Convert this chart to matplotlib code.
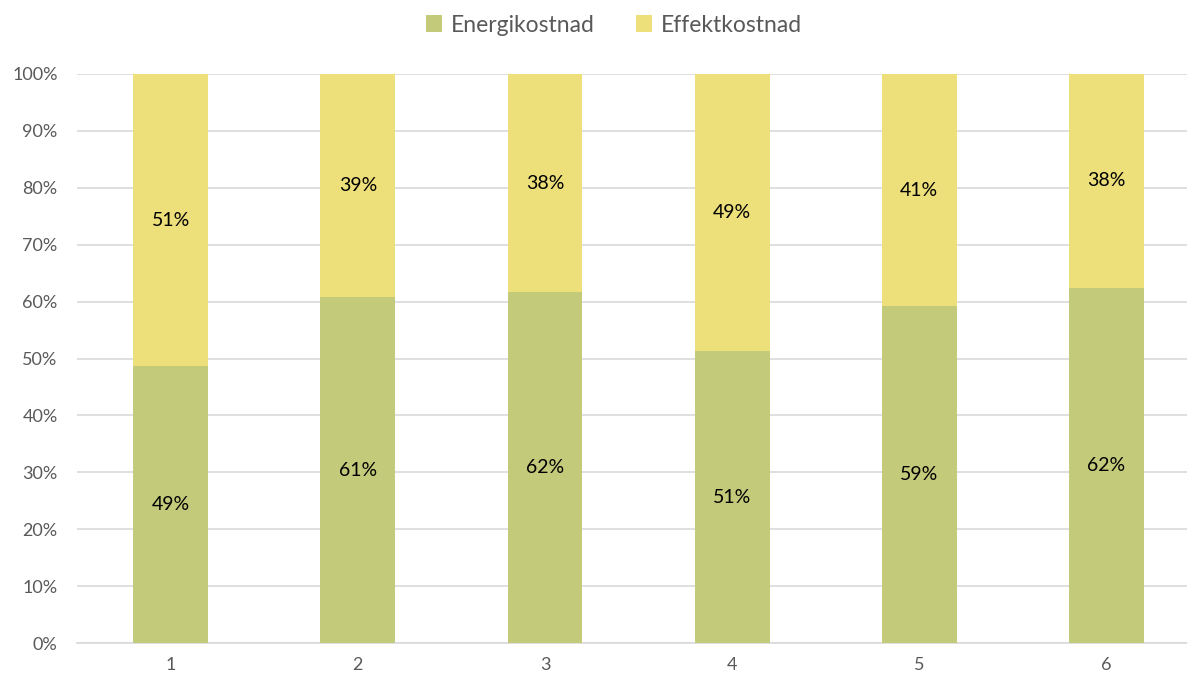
import numpy as np
import matplotlib.pyplot as plt
from matplotlib.ticker import PercentFormatter

plt.rcParams['font.family'] = ['Lato', 'DejaVu Sans']

categories = ['1', '2', '3', '4', '5', '6']
energikostnad = [48.6, 60.8, 61.6, 51.3, 59.2, 62.4]
effektkostnad = [100 - v for v in energikostnad]

green = '#C3CA7A'
yellow = '#EDDF7A'
grey = '#595959'

fig = plt.figure(figsize=(11.87, 6.77), dpi=100)
ax = fig.add_axes([77 / 1187, 1 - 643 / 677, 1 - 77 / 1187, (643 - 74) / 677])

x = np.arange(len(categories))
width = 0.40
b1 = ax.bar(x, energikostnad, width, color=green, label='Energikostnad', zorder=3)
b2 = ax.bar(x, effektkostnad, width, bottom=energikostnad, color=yellow,
            label='Effektkostnad', zorder=3)

for bars, vals in ((b1, energikostnad), (b2, effektkostnad)):
    ax.bar_label(bars, labels=['%.0f%%' % v for v in vals], label_type='center',
                 fontsize=14, color='black')

ax.set_xlim(-0.5, 5.43)
ax.set_ylim(0, 100)
ax.set_yticks(np.arange(0, 101, 10))
ax.yaxis.set_major_formatter(PercentFormatter(decimals=0))
ax.set_xticks(x)
ax.set_xticklabels(categories)
ax.tick_params(axis='both', length=0, colors=grey, labelsize=13)
ax.tick_params(axis='x', pad=10)
ax.tick_params(axis='y', pad=14)
ax.grid(axis='y', color='#D9D9D9', linewidth=1.2, zorder=0)
for side in ('top', 'right', 'left'):
    ax.spines[side].set_visible(False)
ax.spines['bottom'].set_color('#D9D9D9')
ax.spines['bottom'].set_linewidth(1.2)

leg = fig.legend(loc='center', bbox_to_anchor=(614 / 1187, 1 - 25 / 677), ncol=2,
                 frameon=False, fontsize=16.5, handlelength=0.7, handleheight=0.7,
                 handletextpad=0.4, columnspacing=1.8)
for t in leg.get_texts():
    t.set_color(grey)

fig.savefig('out.png', dpi=100)
